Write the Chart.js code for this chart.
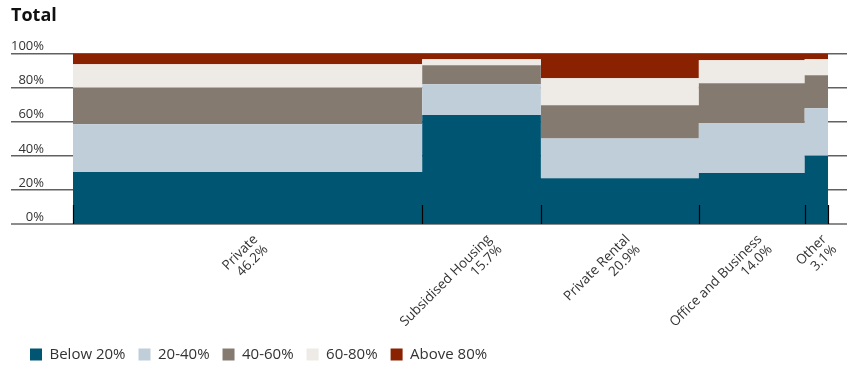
<!DOCTYPE html>
<html><head><meta charset="utf-8">
<script src="https://cdn.jsdelivr.net/npm/chart.js@4"></script>
<style>html,body{margin:0;padding:0;background:#fff}</style>
</head><body>
<canvas id="c" width="847" height="365"></canvas>
<script>
const categories = ['Private', 'Subsidised Housing', 'Private Rental', 'Office and Business', 'Other'];
const widths = [46.2, 15.7, 20.9, 14.0, 3.1];
const seriesNames = ['Below 20%', '20-40%', '40-60%', '60-80%', 'Above 80%'];
const below20 = [30.5, 63.9, 26.8, 29.9, 40.0];
const from20to40 = [28.1, 18.1, 23.4, 29.4, 28.0];
const from40to60 = [21.3, 11.1, 19.5, 23.3, 19.3];
const from60to80 = [13.8, 3.6, 15.8, 13.5, 9.4];
const above80 = [6.3, 3.3, 14.5, 3.9, 3.3];
const yTicks = [0, 20, 40, 60, 80, 100];
const chartTitle = 'Total';

const seriesValues = [below20, from20to40, from40to60, from60to80, above80];
const colors = ['#005573', '#C0CED9', '#857A70', '#EEEAE5', '#8A2100'];
const FONT = "'Open Sans', 'Noto Sans', sans-serif";

// column geometry derived from widths
const starts = [];
let acc = 0;
widths.forEach(w => { starts.push(acc); acc += w; });
const total = acc;
const centers = widths.map((w, i) => starts[i] + w / 2);
const bounds = [0, ...widths.map((w, i) => starts[i] + w)];

const running = categories.map(() => 0);
const datasets = seriesValues.map((vals, s) => {
  const tops = vals.map((v, i) => (running[i] += v));
  const pts = categories.map((c, i) => ({ x: starts[i], y: tops[i] }));
  pts.push({ x: total, y: tops[tops.length - 1] });
  return {
    label: seriesNames[s],
    data: pts,
    stepped: 'before',
    fill: s === 0 ? 'origin' : '-1',
    backgroundColor: colors[s],
    borderColor: colors[s],
    borderWidth: 0,
    pointRadius: 0,
    pointHoverRadius: 0
  };
});

// width of the widest y tick label, for right-aligning the mirrored labels
const mctx = document.createElement('canvas').getContext('2d');
mctx.font = "13px " + FONT;
const widestY = Math.max(...yTicks.map(v => mctx.measureText(v + '%').width));

const boundaryTicks = {
  id: 'boundaryTicks',
  afterDatasetsDraw(chart) {
    const { ctx, scales: { x, y } } = chart;
    const base = y.getPixelForValue(0);
    ctx.save();
    ctx.strokeStyle = '#000';
    ctx.lineWidth = 1.2;
    bounds.forEach(v => {
      const px = Math.round(x.getPixelForValue(v)) + 0.5;
      ctx.beginPath();
      ctx.moveTo(px, base);
      ctx.lineTo(px, base - 19);
      ctx.stroke();
    });
    ctx.restore();
  }
};

const titleText = {
  id: 'titleText',
  afterDraw(chart) {
    const ctx = chart.ctx;
    ctx.save();
    ctx.font = "bold 18px " + FONT;
    ctx.fillStyle = '#111';
    ctx.textAlign = 'left';
    ctx.textBaseline = 'alphabetic';
    ctx.fillText(chartTitle, 11, 21);
    ctx.restore();
  }
};

new Chart(document.getElementById('c'), {
  type: 'line',
  data: { datasets },
  plugins: [boundaryTicks, titleText],
  options: {
    responsive: false,
    animation: false,
    events: [],
    layout: { padding: { left: 17, right: 0, top: 53.6, bottom: -7 } },
    scales: {
      x: {
        type: 'linear',
        min: 0,
        max: 102.4,
        grid: { display: false },
        border: { display: false },
        afterBuildTicks: s => { s.ticks = centers.map(v => ({ value: v })); },
        afterFit: s => { s.height = 110; },
        ticks: {
          autoSkip: false,
          minRotation: 45,
          maxRotation: 45,
          padding: 0,
          labelOffset: 8,
          color: '#333',
          font: { family: FONT, size: 13.5, lineHeight: 1.08 },
          callback: (v, i) => [categories[i], widths[i].toFixed(1) + '%']
        }
      },
      y: {
        min: 0,
        max: 100,
        z: 1,
        border: { display: false },
        afterBuildTicks: s => { s.ticks = yTicks.map(v => ({ value: v })); },
        afterFit: s => { s.width = 56; },
        grid: {
          drawTicks: true,
          tickLength: 62,
          color: c => (c.tick && c.tick.value === 0 ? '#8c8c8c' : 'rgba(0,0,0,0.62)'),
          lineWidth: c => (c.tick && c.tick.value === 0 ? 2 : 1.5)
        },
        ticks: {
          mirror: true,
          crossAlign: 'far',
          padding: -29 - widestY,
          labelOffset: -7,
          color: '#333',
          font: { family: FONT, size: 13 },
          callback: v => v + '%'
        }
      }
    },
    plugins: {
      title: { display: false },
      legend: {
        position: 'bottom',
        align: 'start',
        labels: {
          boxWidth: 12,
          boxHeight: 12,
          padding: 13,
          color: '#333',
          font: { family: FONT, size: 15 }
        }
      },
      tooltip: { enabled: false }
    }
  }
});
</script>
</body></html>
